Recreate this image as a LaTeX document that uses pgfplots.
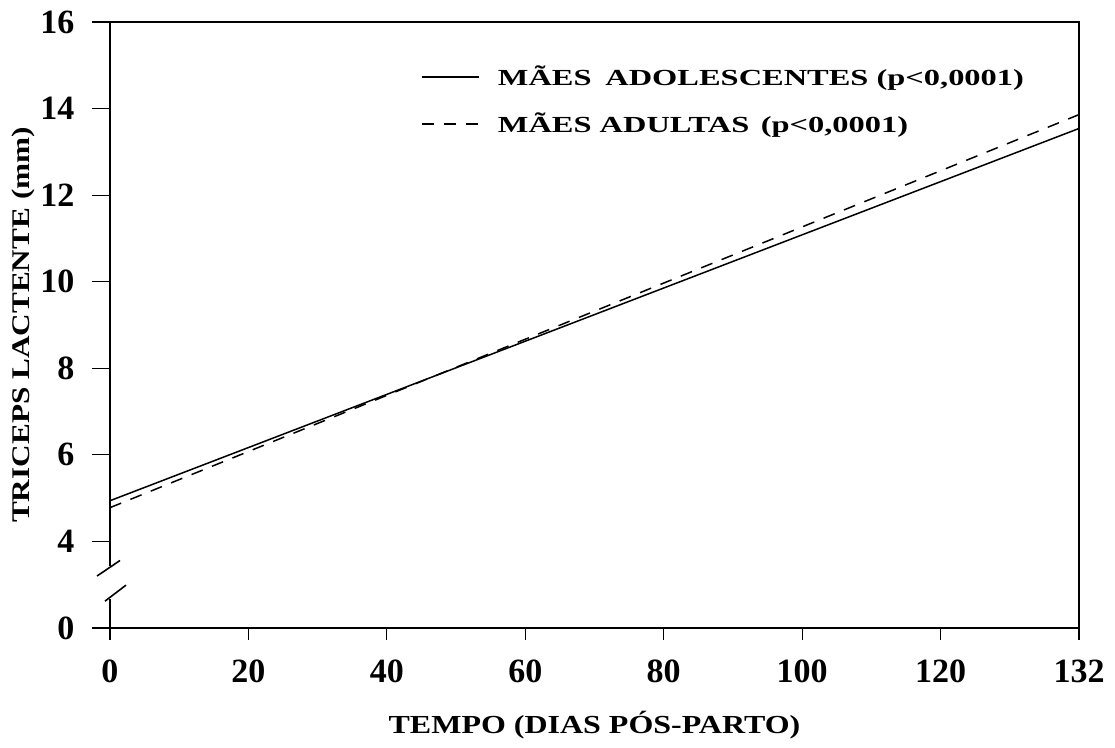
\documentclass[border=0pt]{standalone}
\usepackage{fontspec}
\setmainfont{Liberation Serif}
\newfontfamily\lblfont{Liberation Serif}[FakeStretch=1.23]
\newfontfamily\legfont{Liberation Serif}[FakeStretch=1.41]
\usepackage{pgfplots}
\pgfplotsset{compat=1.18}
\begin{document}
\begin{tikzpicture}
\begin{axis}[
  at={(0pt,0pt)}, anchor=south west,
  scale only axis, width=484.5pt, height=303pt,
  xmin=0, xmax=140, ymin=2, ymax=16,
  axis line style={draw=none},
  clip=false,
  xtick={0,20,...,140}, xticklabels={0,20,40,60,80,100,120,132},
  ytick={2,4,...,16}, yticklabels={0,4,6,8,10,12,14,16},
  tick align=outside, xtick pos=bottom, ytick pos=left,
  xtick style={black, line width=0.6pt, /pgfplots/major tick length=6pt},
  ytick style={black, line width=0.6pt, /pgfplots/major tick length=9pt},
  tick label style={font=\fontsize{17}{17}\selectfont\bfseries},
  xticklabel style={yshift=-8pt},
  yticklabel style={xshift=-10pt},
  /pgf/number format/assume math mode=true,
  xlabel={TEMPO (DIAS PÓS-PARTO)},
  ylabel={TRICEPS LACTENTE (mm)},
  xlabel style={font=\lblfont\bfseries\fontsize{13}{13}\selectfont, at={(axis description cs:0.5,-0.160)}, anchor=center},
  ylabel style={font=\lblfont\bfseries\fontsize{12.7}{12.7}\selectfont, at={(axis description cs:-0.0898,0.5)}, anchor=center},
  legend style={draw=none, fill=none, at={(axis description cs:0.321,0.935)}, anchor=north west,
    font=\legfont\bfseries\fontsize{11.5}{11.5}\selectfont, row sep=8pt, inner sep=0pt,
    nodes={inner sep=2pt}},
  legend cell align=left,
  legend image code/.code={\draw[#1] (0pt,0pt) -- (28.5pt,0pt); \path (35.5pt,0pt);},
]
\addplot[black, line width=0.75pt] coordinates {(0,4.94) (140,13.54)};
\addlegendentry{MÃES\hspace{0.6em}ADOLESCENTES (p<0,0001)}
\addplot[black, line width=0.75pt, dash pattern=on 6pt off 5pt] coordinates {(0,4.78) (140,13.86)};
\addlegendentry{MÃES ADULTAS\hspace{0.5em}(p<0,0001)}
\draw[black, line width=0.8pt] (axis cs:0,16) -- (axis cs:140,16) -- (axis cs:140,2) -- (axis cs:0,2) -- (axis cs:0,2.67);
\draw[black, line width=0.8pt] (axis cs:0,3.43) -- (axis cs:0,16);
\draw[black, line width=0.8pt] (axis cs:-0.72,2.62) -- (axis cs:2.31,2.99);
\draw[black, line width=0.8pt] (axis cs:-1.88,3.2) -- (axis cs:1.45,3.56);
\end{axis}
\pgfresetboundingbox
\path[use as bounding box] (-55pt,-60pt) rectangle (502.5pt,314pt);
\end{tikzpicture}
\end{document}
